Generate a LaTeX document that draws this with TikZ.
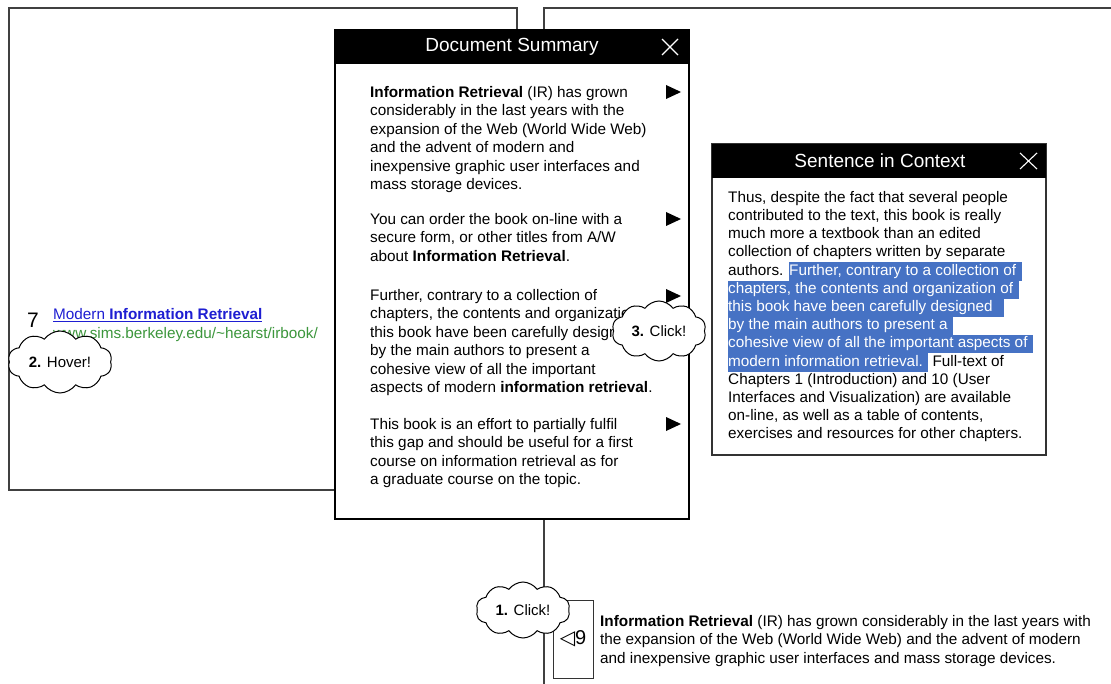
\documentclass[tikz,border=0pt]{standalone}
\usepackage{fontspec}
\setmainfont{Liberation Sans}
\newfontfamily\symbfont{DejaVu Sans}
\usetikzlibrary{shapes.symbols}
\definecolor{linkblue}{RGB}{30,30,210}
\definecolor{urlgreen}{RGB}{60,150,60}
\definecolor{hlblue}{RGB}{70,114,196}
\newcommand{\hl}[1]{{\setlength{\fboxsep}{0pt}\colorbox{hlblue}{\strut\textcolor{white}{#1}\hspace{0.35em}}}}

\tikzset{
  frame/.style={draw=black!75, line width=1.4pt},
  popup/.style={draw=black, line width=1.3pt, fill=white},
  para/.style={anchor=north west, inner sep=0pt, align=left,
    font=\fontsize{15.3}{18.5}\selectfont},
  title/.style={text=white, inner sep=0pt, font=\fontsize{19}{19}\selectfont},
  closex/.style={draw=white, line width=1.1pt},
  bubble/.style={shape=cloud, cloud puffs=10, cloud puff arc=110, cloud ignores aspect,
    draw=black, line width=1pt, fill=white, inner sep=0pt,
    font=\fontsize{15}{15}\selectfont}
}

\begin{document}
\begin{tikzpicture}[x=1pt,y=-1pt]
\useasboundingbox[fill=white] (0,0) rectangle (1111,684);

% result pages behind
\draw[frame] (9,8) rectangle (517,490);
\draw[frame] (1116,8) -- (544,8) -- (544,690);

% search hit
\node[anchor=north west, inner sep=0pt, font=\fontsize{21}{21}\selectfont] (rank) at (27,313) {7};
\node[para, font=\fontsize{15.3}{19}\selectfont] (hit) at (53,308)
  {\textcolor{linkblue}{\underline{Modern \textbf{Information Retrieval}}}\\
   \textcolor{urlgreen}{www.sims.berkeley.edu/\textasciitilde hearst/irbook/}};
\node[bubble, minimum width=104pt, minimum height=62pt] (hover) at (60,362) {\textbf{2.} Hover!};

% document summary
\draw[popup] (335,30) rectangle (689,519);
\fill (335,30) rectangle (689,64);
\node[title] (sumtitle) at (512,47) {Document Summary};
\draw[closex] (662,39) -- (678,55) (662,55) -- (678,39);

\node[para] (sum1) at (370,86)
  {\textbf{Information Retrieval} (IR) has grown\\
   considerably in the last years with the\\
   expansion of the Web (World Wide Web)\\
   and the advent of modern and\\
   inexpensive graphic user interfaces and\\
   mass storage devices.};
\node[para] (sum2) at (370,213)
  {You can order the book on-line with a\\
   secure form, or other titles from A/W\\
   about \textbf{Information Retrieval}.};
\node[para] (sum3) at (370,289)
  {Further, contrary to a collection of\\
   chapters, the contents and organization of\\
   this book have been carefully designed\\
   by the main authors to present a\\
   cohesive view of all the important\\
   aspects of modern \textbf{information retrieval}.};
\node[para] (sum4) at (370,418)
  {This book is an effort to partially fulfil\\
   this gap and should be useful for a first\\
   course on information retrieval as for\\
   a graduate course on the topic.};
\foreach \y in {92,219,296,424}
  \fill (666,\y-7) -- (681,\y) -- (666,\y+7) -- cycle;

\node[bubble, minimum width=94pt, minimum height=60pt] (click3) at (659,331) {\textbf{3.} Click!};

% sentence in context
\draw[popup, draw=black!80] (712,144) rectangle (1046,455);
\fill (712,144) rectangle (1046,178);
\node[title] (ctxtitle) at (880,161) {Sentence in Context};
\draw[closex] (1020,153) -- (1037,169) (1020,169) -- (1037,153);
\node[para, font=\fontsize{15.3}{18.2}\selectfont] (ctx) at (728,191)
  {Thus, despite the fact that several people\\
   contributed to the text, this book is really\\
   much more a textbook than an edited\\
   collection of chapters written by separate\\
   authors. \hl{Further, contrary to a collection of}\\
   \hl{chapters, the contents and organization of}\\
   \hl{this book have been carefully designed\hspace{0.4em}}\\
   \hl{by the main authors to present a}\\
   \hl{cohesive view of all the important aspects of}\\
   \hl{modern information retrieval.} Full-text of\\
   Chapters 1 (Introduction) and 10 (User\\
   Interfaces and Visualization) are available\\
   on-line, as well as a table of contents,\\
   exercises and resources for other chapters.};

% result page with citation marker
\node[draw=black!80, line width=1pt, fill=white, minimum width=40pt, minimum height=78pt,
  inner sep=0pt, font=\fontsize{20}{20}\selectfont] (cite) at (573,639) {{\symbfont ◁}9};
\node[bubble, minimum width=94pt, minimum height=56pt] (click1) at (523,610) {\textbf{1.} Click!};
\node[para] (snippet) at (600,615)
  {\textbf{Information Retrieval} (IR) has grown considerably in the last years with\\
   the expansion of the Web (World Wide Web) and the advent of modern\\
   and inexpensive graphic user interfaces and mass storage devices.};
\end{tikzpicture}
\end{document}
